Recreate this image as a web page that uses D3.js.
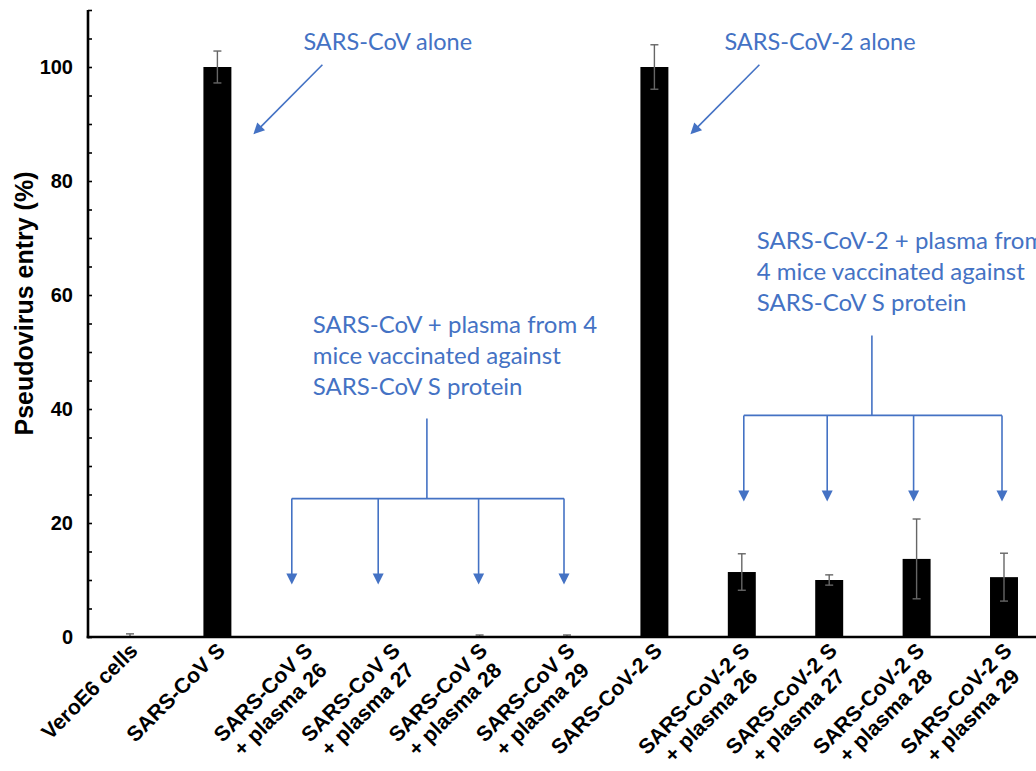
<!DOCTYPE html>
<html>
<head>
<meta charset="utf-8">
<script src="https://cdn.jsdelivr.net/npm/d3@7/dist/d3.min.js"></script>
<style>
  html, body { margin: 0; padding: 0; background: #fff; }
  svg { display: block; }
</style>
</head>
<body>
<svg id="chart" width="1036" height="771"></svg>
<script>
// ---------------- data ----------------
const categories = [
  ["VeroE6 cells"],
  ["SARS-CoV S"],
  ["SARS-CoV S", "+ plasma 26"],
  ["SARS-CoV S", "+ plasma 27"],
  ["SARS-CoV S", "+ plasma 28"],
  ["SARS-CoV S", "+ plasma 29"],
  ["SARS-CoV-2 S"],
  ["SARS-CoV-2 S", "+ plasma 26"],
  ["SARS-CoV-2 S", "+ plasma 27"],
  ["SARS-CoV-2 S", "+ plasma 28"],
  ["SARS-CoV-2 S", "+ plasma 29"]
];
const values = [0.05, 100, 0, 0, 0.1, 0.1, 100, 11.4, 10.0, 13.7, 10.5];
const errors = [0.5, 2.8, 0, 0, 0.25, 0.25, 3.9, 3.2, 0.9, 7.0, 4.2];
const yTicks = [0, 20, 40, 60, 80, 100];
const yMinorTicks = d3.range(0, 111, 5);
const yTitle = "Pseudovirus entry (%)";

const aloneNotes = [
  { cat: 1, text: "SARS-CoV alone", textDx: 86 },
  { cat: 6, text: "SARS-CoV-2 alone", textDx: 70 }
];
const groupNotes = [
  { lines: ["SARS-CoV + plasma from 4", "mice vaccinated against", "SARS-CoV S protein"],
    targets: [2, 3, 4, 5], dx: [-13, -14, -1, -3], textDx: 21, baseVal: 53.4 },
  { lines: ["SARS-CoV-2 + plasma from", "4 mice vaccinated against", "SARS-CoV S protein"],
    targets: [7, 8, 9, 10], dx: [2, -2, -3, -2], textDx: 13, baseVal: 68.0 }
];

// ---------------- layout ----------------
const svg = d3.select("#chart");
const blue = "#4472C4";
const axisFont = "'Liberation Sans', Arial, sans-serif";
const noteFont = "Lato, 'Open Sans', sans-serif";

const y = d3.scaleLinear().domain([0, 110]).range([637, 10]);
const x = d3.scaleBand()
  .domain(d3.range(categories.length))
  .range([86.3, 1047.7])
  .paddingInner(0.68)
  .paddingOuter(0.34);
const cx = i => x(i) + x.bandwidth() / 2;

// bars
svg.append("g").selectAll("rect")
  .data(values)
  .join("rect")
  .attr("x", (d, i) => x(i))
  .attr("width", x.bandwidth())
  .attr("y", d => y(d))
  .attr("height", d => y(0) - y(d))
  .attr("fill", "#000");

// error bars
const eb = svg.append("g").attr("stroke", "#666").attr("stroke-width", 1.4);
values.forEach((v, i) => {
  const e = errors[i];
  if (e <= 0) return;
  const lo = Math.max(0, v - e), hi = v + e;
  eb.append("line").attr("x1", cx(i)).attr("x2", cx(i)).attr("y1", y(lo)).attr("y2", y(hi));
  eb.append("line").attr("x1", cx(i) - 4).attr("x2", cx(i) + 4).attr("y1", y(hi)).attr("y2", y(hi));
  if (v - e > 0)
    eb.append("line").attr("x1", cx(i) - 4).attr("x2", cx(i) + 4).attr("y1", y(lo)).attr("y2", y(lo));
});

// y axis
const yAxisG = svg.append("g").attr("transform", "translate(88,0)");
yAxisG.call(d3.axisRight(y).tickValues(yMinorTicks).tickSize(4).tickFormat(""))
  .call(g => g.select(".domain").remove())
  .call(g => g.selectAll("line").attr("stroke", "#000").attr("stroke-width", 1.6));
yAxisG.append("line").attr("x1", 0).attr("x2", 0).attr("y1", y(110)).attr("y2", y(0) + 1.2)
  .attr("stroke", "#000").attr("stroke-width", 2.6);
yAxisG.selectAll("text.tl").data(yTicks).join("text")
  .attr("class", "tl")
  .attr("x", -15)
  .attr("y", d => y(d))
  .attr("dy", "0.36em")
  .attr("text-anchor", "end")
  .attr("font-family", axisFont)
  .attr("font-weight", "bold")
  .attr("font-size", 20)
  .attr("fill", "#000")
  .text(d => d);

// x axis line
svg.append("line").attr("x1", 86.7).attr("x2", 1036).attr("y1", y(0)).attr("y2", y(0))
  .attr("stroke", "#000").attr("stroke-width", 2.6);

// y title
svg.append("text")
  .attr("transform", `translate(33,${(y(0) + y(110)) / 2 - 20}) rotate(-90)`)
  .attr("text-anchor", "middle")
  .attr("font-family", axisFont)
  .attr("font-weight", "bold")
  .attr("font-size", 25)
  .attr("fill", "#000")
  .text(yTitle);

// x labels
categories.forEach((lines, i) => {
  const g = svg.append("g")
    .attr("transform", `translate(${cx(i) + 9},652) rotate(-45)`)
    .attr("font-family", axisFont)
    .attr("font-weight", "bold")
    .attr("font-size", 21.3)
    .attr("fill", "#000");
  const t1 = g.append("text").attr("x", 0).attr("y", 0).attr("text-anchor", "end").text(lines[0]);
  if (lines.length > 1) {
    const w1 = t1.node().getComputedTextLength();
    g.append("text").attr("x", -w1 / 2).attr("y", 24).attr("text-anchor", "middle").text(lines[1]);
  }
});

// ---------------- annotations ----------------
const ann = svg.append("g").attr("fill", blue).attr("stroke", blue);

function arrowHead(tipX, tipY, angle) {
  const L = 11, W = 5.5;
  const bx = tipX - L * Math.cos(angle), by = tipY - L * Math.sin(angle);
  const px = -Math.sin(angle) * W, py = Math.cos(angle) * W;
  ann.append("path")
    .attr("d", `M${tipX},${tipY}L${bx + px},${by + py}L${bx - px},${by - py}Z`)
    .attr("stroke", "none");
}

aloneNotes.forEach(n => {
  const sx = cx(n.cat) + 105, sy = y(100.4);
  const tx = cx(n.cat) + 36, ty = y(88.2);
  const ang = Math.atan2(ty - sy, tx - sx);
  ann.append("line").attr("x1", sx).attr("y1", sy)
    .attr("x2", tx - 8 * Math.cos(ang)).attr("y2", ty - 8 * Math.sin(ang))
    .attr("stroke-width", 1.6);
  arrowHead(tx, ty, ang);
  ann.append("text").attr("x", cx(n.cat) + n.textDx).attr("y", y(103))
    .attr("stroke", "none").attr("font-family", noteFont).attr("font-size", 23.5)
    .text(n.text);
});

groupNotes.forEach(n => {
  const xs = n.targets.map((c, k) => cx(c) + n.dx[k]);
  const left = xs[0] + n.textDx;
  const firstBase = y(n.baseVal);
  n.lines.forEach((ln, k) => {
    ann.append("text").attr("x", left).attr("y", firstBase + k * 31)
      .attr("stroke", "none").attr("font-family", noteFont).attr("font-size", 24)
      .text(ln);
  });
  const barY = firstBase + 166;
  const topY = barY - 80;
  const tipY = barY + 86;
  const midX = (xs[0] + xs[3]) / 2 - 1;
  ann.append("line").attr("x1", midX).attr("x2", midX).attr("y1", topY).attr("y2", barY).attr("stroke-width", 1.6);
  ann.append("line").attr("x1", xs[0]).attr("x2", xs[3]).attr("y1", barY).attr("y2", barY).attr("stroke-width", 1.6);
  xs.forEach(xx => {
    ann.append("line").attr("x1", xx).attr("x2", xx).attr("y1", barY).attr("y2", tipY - 8).attr("stroke-width", 1.6);
    arrowHead(xx, tipY, Math.PI / 2);
  });
});
</script>
</body>
</html>
